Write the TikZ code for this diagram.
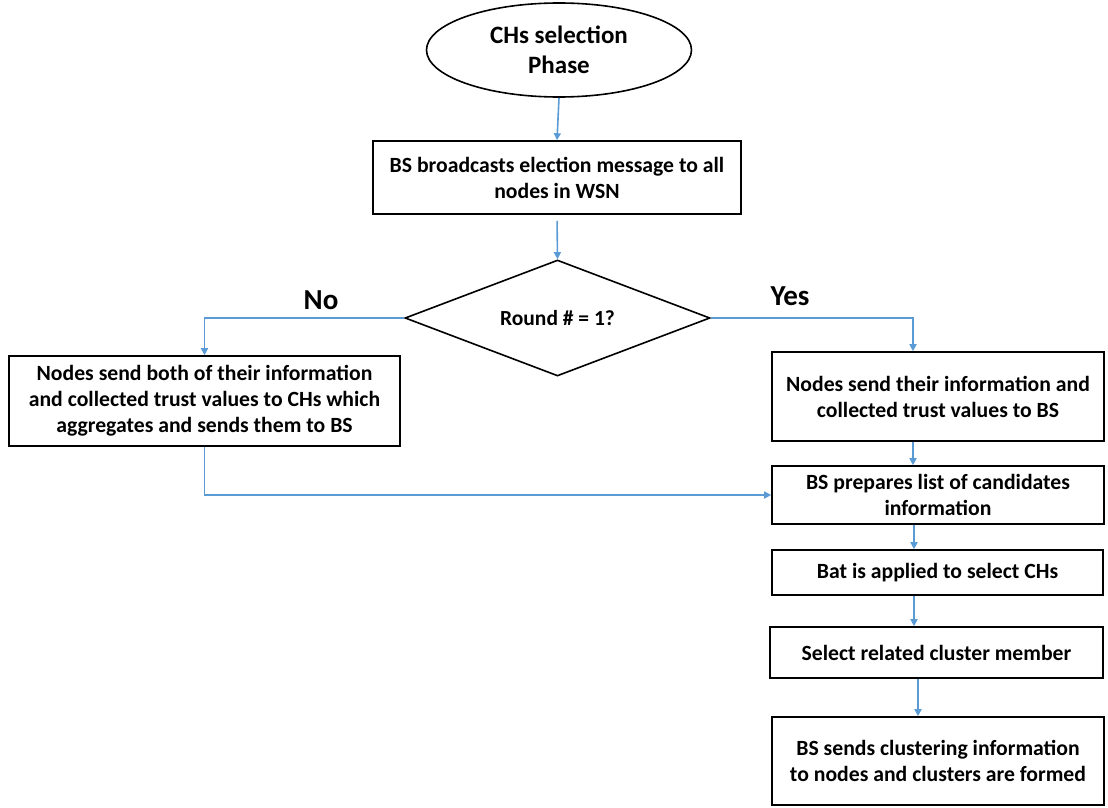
\documentclass[tikz,border=0pt]{standalone}
\usepackage{fontspec}
\setmainfont{Carlito}
\usetikzlibrary{shapes.geometric,arrows.meta}
\definecolor{conn}{RGB}{91,155,213}
\begin{document}
\begin{tikzpicture}[x=1pt,y=-1pt,
  every node/.style={font=\bfseries\fontsize{21.7}{26}\selectfont, align=center, inner sep=0pt},
  boxnode/.style={draw=black, line width=1.6pt, rectangle},
  arr/.style={draw=conn, line width=1.6pt, -{Triangle[width=7pt,length=7pt]}},
  lbl/.style={font=\bfseries\fontsize{29}{32}\selectfont}]
\useasboundingbox (0,0) rectangle (1108,808);
\node[draw=black, line width=1.6pt, ellipse, minimum width=265pt, minimum height=94pt, font=\bfseries\fontsize{25}{30}\selectfont] (start) at (559,50) {CHs selection\\Phase};
\node[boxnode, minimum width=368pt, minimum height=73pt] (b1) at (557,177.5) {BS broadcasts election message to all\\nodes in WSN};
\node[draw=black, line width=1.6pt, diamond, aspect=2.6, minimum width=305pt, minimum height=116pt, font=\bfseries\fontsize{21.5}{24}\selectfont] (dec) at (557.5,318) {Round \# = 1?};
\node[lbl] (no) at (321,300) {No};
\node[lbl] (yes) at (790,296) {Yes};
\node[boxnode, minimum width=391pt, minimum height=90pt] (left) at (204.5,401) {Nodes send both of their information\\and collected trust values to CHs which\\aggregates and sends them to BS};
\node[boxnode, minimum width=332pt, minimum height=89pt] (r1) at (938,396.5) {Nodes send their information and\\collected trust values to BS};
\node[boxnode, minimum width=332pt, minimum height=58pt] (r2) at (938,495) {BS prepares list of candidates\\information};
\node[boxnode, minimum width=331pt, minimum height=45pt] (r3) at (937.5,572.5) {Bat is applied to select CHs};
\node[boxnode, minimum width=333pt, minimum height=51pt] (r4) at (936.5,652.5) {Select related cluster member};
\node[boxnode, minimum width=332pt, minimum height=88pt] (r5) at (938,761) {BS sends clustering information\\to nodes and clusters are formed};
\draw[arr] (start.south) -- (b1.north);
\draw[arr, shorten <=6pt] (b1.south) -- (dec.north);
\draw[arr] (dec.west) -| (left.north);
\draw[arr] (dec.east) -| ([xshift=-25pt]r1.north);
\draw[arr] (left.south) |- (r2.west);
\draw[arr] ([xshift=-25pt]r1.south) -- ([xshift=-25pt]r2.north);
\draw[arr] ([xshift=-24pt]r2.south) -- ([xshift=-23.5pt]r3.north);
\draw[arr] ([xshift=-23.5pt]r3.south) -- ([xshift=-22.5pt]r4.north);
\draw[arr] ([xshift=-18.5pt]r4.south) -- ([xshift=-20pt]r5.north);
\end{tikzpicture}
\end{document}
